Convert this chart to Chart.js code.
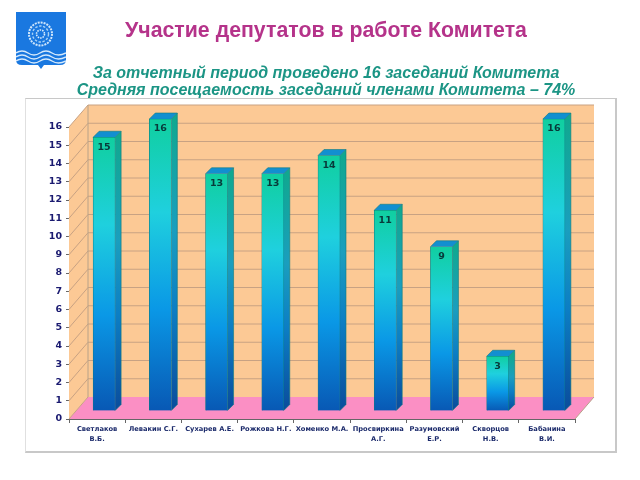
<!DOCTYPE html>
<html lang="ru">
<head>
<meta charset="utf-8">
<title>Участие депутатов в работе Комитета</title>
<script src="https://cdn.jsdelivr.net/npm/chart.js@4"></script>
<style>
  html, body { margin: 0; padding: 0; background: #fff; }
  #page { position: relative; width: 640px; height: 480px; overflow: hidden; font-family: "Liberation Sans", Arial, sans-serif; }
  #grafico { position: absolute; left: 0; top: 0; }
  #marco { position: absolute; left: 25px; top: 98px; width: 589px; height: 352px; border: 1px solid #e0e0e0; border-top: 1px solid #c8c8c8; border-right: 2px solid #c8c8c8; border-bottom: 2px solid #c8c8c8; }
  #titulo { position: absolute; left: 0; top: 18px; width: 652px; text-align: center; font-size: 21.3px; font-weight: bold; color: #b5338a; white-space: nowrap; }
  .sub { position: absolute; left: 0; width: 652px; text-align: center; font-size: 16px; font-weight: bold; font-style: italic; color: #1c9585; white-space: nowrap; }
  #escudo { position: absolute; left: 16px; top: 12px; }
</style>
</head>
<body>
<div id="page">
  <div id="marco"></div>
  <canvas id="grafico" width="640" height="480"></canvas>
  <svg id="escudo" width="50" height="57" viewBox="0 0 50 57">
    <path d="M0 0H50V48Q50 53 44 53H28L25 57L22 53H6Q0 53 0 48Z" fill="#1a78e0"/>
    <circle cx="24.5" cy="22" r="11.5" fill="none" stroke="#cfe6fb" stroke-width="2" stroke-dasharray="2 1"/>
    <circle cx="24.5" cy="22" r="8" fill="none" stroke="#a8d2f6" stroke-width="1.4" stroke-dasharray="2.5 1.5"/>
    <circle cx="24.5" cy="22" r="4" fill="none" stroke="#d8ecfc" stroke-width="1.6" stroke-dasharray="1.5 1"/>
    <path d="M0 41q6-4 12 0t12 0t12 0t14 0M0 45q6-4 12 0t12 0t12 0t14 0M0 49q6-4 12 0t12 0t12 0t14 0" fill="none" stroke="#d5e9fb" stroke-width="1.5"/>
  </svg>
  <div id="titulo">Участие депутатов в работе Комитета</div>
  <div class="sub" style="top:64px">За отчетный период проведено 16 заседаний Комитета</div>
  <div class="sub" style="top:81px">Средняя посещаемость заседаний членами Комитета – 74%</div>
</div>
<script>
const categorias = [
  ["Светлаков", "В.Б."],
  "Левакин С.Г.",
  "Сухарев А.Е.",
  "Рожкова Н.Г.",
  "Хоменко М.А.",
  ["Просвиркина", "А.Г."],
  ["Разумовский", "Е.Р."],
  ["Скворцов", "Н.В."],
  ["Бабанина", "В.И."],
];
const asistencias = [15, 16, 13, 13, 14, 11, 9, 3, 16];
const marcasY = [0, 1, 2, 3, 4, 5, 6, 7, 8, 9, 10, 11, 12, 13, 14, 15, 16];

//DESPLAZAMIENTO 3D DE LAS PAREDES Y DE LAS BARRAS
const fondoX = 19;
const fondoY = -22;
const barraX = 7;
const barraY = -8;
const ladoBarra = 6;

function poligono(ctx, puntos, color) {
  ctx.beginPath();
  puntos.forEach((p, i) => (i ? ctx.lineTo(p[0], p[1]) : ctx.moveTo(p[0], p[1])));
  ctx.closePath();
  ctx.fillStyle = color;
  ctx.fill();
}

//PAREDES, PISO Y LINEAS DE LA GRILLA
const paredes = {
  id: "paredes",
  beforeDatasetsDraw(chart) {
    const { ctx, scales } = chart;
    const { left, right, top, bottom } = chart.chartArea;
    const dx = fondoX;
    const dy = fondoY;
    ctx.save();
    poligono(ctx, [[left + dx, top + dy], [right + dx, top + dy], [right + dx, bottom + dy], [left + dx, bottom + dy]], "#fcc995");
    poligono(ctx, [[left, top], [left + dx, top + dy], [left + dx, bottom + dy], [left, bottom]], "#fcc995");
    poligono(ctx, [[left, bottom], [left + dx, bottom + dy], [right + dx, bottom + dy], [right, bottom]], "#fb8fc4");
    ctx.strokeStyle = "#c8a283";
    ctx.lineWidth = 1;
    marcasY.forEach((v) => {
      const y = scales.y.getPixelForValue(v);
      ctx.beginPath();
      ctx.moveTo(left, y);
      ctx.lineTo(left + dx, y + dy);
      if (v > 0) ctx.lineTo(right + dx, y + dy);
      ctx.stroke();
    });
    ctx.beginPath();
    ctx.moveTo(left + dx, top + dy);
    ctx.lineTo(left + dx, bottom + dy);
    ctx.moveTo(right, bottom);
    ctx.lineTo(right + dx, bottom + dy);
    ctx.strokeStyle = "#b8a288";
    ctx.stroke();
    ctx.restore();
  },
  beforeDatasetDraw(chart, args) {
    const { ctx } = chart;
    ctx.save();
    ctx.translate(barraX, barraY);
    //LADO Y TAPA DE CADA BARRA
    args.meta.data.forEach((barra) => {
      const izq = barra.x - barra.width / 2;
      const der = barra.x + barra.width / 2;
      const s = ladoBarra;
      const lado = ctx.createLinearGradient(0, barra.y, 0, barra.base);
      lado.addColorStop(0, "#10a890");
      lado.addColorStop(0.38, "#1a9ebe");
      lado.addColorStop(0.65, "#0c7ec4");
      lado.addColorStop(1, "#0a4c9c");
      poligono(ctx, [[der, barra.y], [der + s, barra.y - s], [der + s, barra.base - s], [der, barra.base]], lado);
      poligono(ctx, [[izq, barra.y], [izq + s, barra.y - s], [der + s, barra.y - s], [der, barra.y]], "#128fd0");
      ctx.strokeStyle = "#0d7c80";
      ctx.lineWidth = 0.6;
      ctx.beginPath();
      ctx.moveTo(izq, barra.y);
      ctx.lineTo(izq + s, barra.y - s);
      ctx.lineTo(der + s, barra.y - s);
      ctx.lineTo(der + s, barra.base - s);
      ctx.lineTo(der, barra.base);
      ctx.moveTo(der, barra.y);
      ctx.lineTo(der + s, barra.y - s);
      ctx.stroke();
    });
  },
  afterDatasetDraw(chart, args) {
    const { ctx } = chart;
    //VALOR DENTRO DE CADA BARRA
    ctx.font = "bold 9.5px 'DejaVu Sans', sans-serif";
    ctx.fillStyle = "#083a3a";
    ctx.textAlign = "center";
    ctx.textBaseline = "middle";
    args.meta.data.forEach((barra, i) => {
      ctx.fillText(asistencias[i], barra.x, barra.y + 10);
    });
    ctx.restore();
  },
};

function degradadoBarra(context) {
  const chart = context.chart;
  if (!chart.chartArea || context.parsed === undefined) return "#12a0d8";
  const escala = chart.scales.y;
  const g = chart.ctx.createLinearGradient(0, escala.getPixelForValue(context.parsed.y), 0, escala.getPixelForValue(0));
  g.addColorStop(0, "#10cfa0");
  g.addColorStop(0.32, "#1fd0de");
  g.addColorStop(0.65, "#0a98e6");
  g.addColorStop(1, "#0858b4");
  return g;
}

new Chart(document.getElementById("grafico"), {
  type: "bar",
  data: {
    labels: categorias,
    datasets: [{
      data: asistencias,
      backgroundColor: degradadoBarra,
      borderColor: "#0c7a80",
      borderWidth: 0.6,
      barThickness: 22,
      clip: false,
    }],
  },
  plugins: [paredes],
  options: {
    responsive: false,
    animation: false,
    events: [],
    layout: { padding: { left: 0, right: 65, top: 127, bottom: 0 } },
    plugins: {
      legend: { display: false },
      title: { display: false },
      tooltip: { enabled: false },
    },
    scales: {
      x: {
        afterFit: (escala) => { escala.height = 61; },
        border: { color: "#666", width: 1 },
        grid: { drawOnChartArea: false, tickLength: 4, color: "#666" },
        ticks: {
          autoSkip: false,
          maxRotation: 0,
          minRotation: 0,
          padding: 1,
          color: "#1b2a6b",
          font: { family: "'DejaVu Sans', sans-serif", size: 6.7, weight: "bold", lineHeight: 1.5 },
        },
      },
      y: {
        min: 0,
        max: 16,
        afterFit: (escala) => { escala.width = 69; },
        afterBuildTicks: (escala) => { escala.ticks = marcasY.map((value) => ({ value })); },
        border: { color: "#666", width: 1 },
        grid: { drawOnChartArea: false, tickLength: 3, color: "#666" },
        ticks: {
          padding: 4,
          color: "#1a1a70",
          font: { family: "'DejaVu Sans', sans-serif", size: 9.5, weight: "bold" },
        },
      },
    },
  },
});
</script>
</body>
</html>
